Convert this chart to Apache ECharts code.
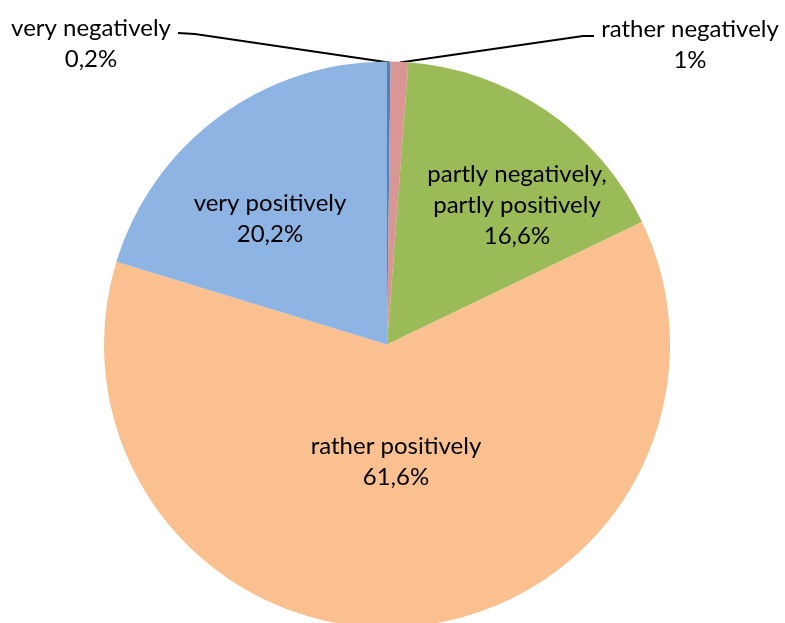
<!DOCTYPE html>
<html>
<head>
<meta charset="utf-8">
<script src="https://cdn.jsdelivr.net/npm/echarts@6/dist/echarts.min.js"></script>
<style>
  html, body { margin: 0; padding: 0; background: #fff; }
  #chart { width: 785px; height: 623px; }
</style>
</head>
<body>
<div id="chart"></div>
<script>
// slice order clockwise from 12 o'clock
const categories = [
  'very negatively',
  'rather negatively',
  'partly negatively,\npartly positively',
  'rather positively',
  'very positively',
]
const shares = [0.2, 1, 16.6, 61.6, 20.2]

const sliceColors = ['#4F81BD', '#D99694', '#9BBB59', '#FAC090', '#8EB4E3']

// where each label sits (Excel put them by hand-ish)
const labelSpots = [
  { x: 91, y: 44 },
  { x: 690, y: 45 },
  { x: 517, y: 205 },
  { x: 396, y: 462 },
  { x: 270, y: 219 },
]

const chart = echarts.init(document.getElementById('chart'))

const fmtShare = (v) => String(v).replace('.', ',') + '%'

chart.setOption({
  animation: false,
  series: [
    {
      type: 'pie',
      center: [387, 344.5],
      radius: 283,
      startAngle: 90,
      clockwise: true,
      silent: true,
      itemStyle: { borderWidth: 0 },
      label: {
        color: '#000',
        fontFamily: 'Lato',
        fontSize: 24,
        lineHeight: 31,
        align: 'center',
        overflow: 'none',
        bleedMargin: 0,
        formatter: (p) => `${p.name}\n${fmtShare(p.value)}`,
      },
      labelLine: {
        show: true,
        lineStyle: { color: '#000', width: 2 },
      },
      labelLayout: (params) => {
        const spot = labelSpots[params.dataIndex]
        const out = { x: spot.x, y: spot.y, align: 'center', verticalAlign: 'middle' }
        const r = params.rect
        if (params.dataIndex === 0) {
          out.labelLinePoints = [[r.x + r.width / 2, r.y + 1], [195, 34], [178, 33]]
        } else if (params.dataIndex === 1) {
          out.labelLinePoints = [[r.x + r.width * 0.6, r.y + 1], [583, 36], [594, 36]]
        }
        return out
      },
      data: categories.map((name, i) => ({
        name,
        value: shares[i],
        itemStyle: { color: sliceColors[i] },
        label: { position: i < 2 ? 'outside' : 'inside' },
        labelLine: { show: i < 2 },
      })),
    },
  ],
})
</script>
</body>
</html>
